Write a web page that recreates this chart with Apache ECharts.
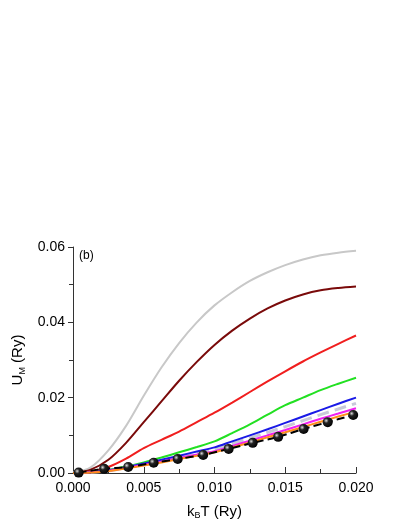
<!DOCTYPE html><html><head><meta charset="utf-8">
<script src="https://cdn.jsdelivr.net/npm/echarts@6/dist/echarts.min.js"></script>
<style>html,body{margin:0;background:#fff}#c{width:407px;height:527px}</style></head><body><div id="c"></div><script>
const xs=[0,0.00125,0.0025,0.00375,0.005,0.00625,0.0075,0.00875,0.01,0.01125,0.0125,0.01375,0.015,0.01625,0.0175,0.01875,0.02];
const gray=[0,0.0015,0.0060,0.0125,0.0205,0.028,0.0345,0.040,0.0445,0.048,0.051,0.0533,0.0552,0.0567,0.0578,0.0585,0.059];
const darkRed=[0,0.0009,0.0035,0.008,0.0135,0.019,0.0245,0.0295,0.034,0.0378,0.041,0.0437,0.0458,0.0474,0.0485,0.0491,0.0495];
const red=[0,0.0004,0.0016,0.0038,0.0066,0.0088,0.011,0.0135,0.016,0.0187,0.0215,0.0243,0.027,0.0296,0.032,0.0343,0.0365];
const green=[0,0.0002,0.0008,0.0017,0.0028,0.0041,0.0055,0.0069,0.0084,0.0106,0.0129,0.0155,0.0180,0.0200,0.0220,0.0237,0.0253];
const blue=[0,0.0002,0.0007,0.0015,0.0025,0.0035,0.0046,0.0057,0.0068,0.0084,0.0100,0.0116,0.0133,0.0150,0.0167,0.0184,0.0200];
const lightGray=[0,0.0002,0.0006,0.0014,0.0023,0.0032,0.0042,0.0053,0.0063,0.0078,0.0093,0.0108,0.0123,0.0139,0.0155,0.0170,0.0185];
const magenta=[0,0.0002,0.0006,0.0013,0.0022,0.0030,0.0040,0.0049,0.0058,0.0072,0.0086,0.0100,0.0114,0.0129,0.0144,0.0158,0.0172];
const orange=[0,0.0001,0.0005,0.0012,0.0020,0.0028,0.0037,0.0046,0.0055,0.0068,0.0081,0.0095,0.0108,0.0122,0.0136,0.0150,0.0163];
const ptX=[0.0004,0.0022,0.0039,0.0057,0.0074,0.0092,0.011,0.0127,0.0145,0.0163,0.018,0.0198];
const ptY=[0.0001,0.0011,0.0016,0.0027,0.0037,0.0048,0.0064,0.0080,0.0096,0.0117,0.0135,0.0154];
const pair=a=>xs.map((x,i)=>[x,a[i]]);
const line=(d,c,type,w)=>({type:'line',data:pair(d),smooth:0.3,symbol:'none',lineStyle:{color:c,width:w||2,type:type||'solid'},z:2});
const ch=echarts.init(document.getElementById('c'));
const F='Liberation Sans, Arial, sans-serif';
ch.setOption({animation:false,
grid:{left:73,right:51,top:247,bottom:54},
xAxis:{type:'value',min:0,max:0.02,interval:0.005,
 axisLine:{lineStyle:{color:'#333',width:1}},axisTick:{inside:true,length:6,lineStyle:{color:'#333'}},
 minorTick:{show:true,splitNumber:2,length:4,lineStyle:{color:'#333'}},splitLine:{show:false},
 axisLabel:{color:'#000',fontSize:14,fontFamily:F,formatter:v=>v.toFixed(3)},
 name:'{a|k}{s|B}{a|T (Ry)}',nameLocation:'middle',nameGap:30,nameTextStyle:{rich:{a:{fontSize:15,fontFamily:F,color:'#000'},s:{fontSize:9,fontFamily:F,color:'#000',verticalAlign:'bottom',padding:[8,0,0,0]}}}},
yAxis:{type:'value',min:0,max:0.06,interval:0.02,
 axisLine:{show:true,lineStyle:{color:'#333',width:1}},axisTick:{length:5,lineStyle:{color:'#333'}},
 minorTick:{show:true,splitNumber:2,length:4,lineStyle:{color:'#333'}},splitLine:{show:false},
 axisLabel:{color:'#000',fontSize:14,fontFamily:F,formatter:v=>v.toFixed(2)},
 name:'{a|U}{s|M}{a| (Ry)}',nameLocation:'middle',nameGap:44,nameTextStyle:{rich:{a:{fontSize:15,fontFamily:F,color:'#000'},s:{fontSize:9,fontFamily:F,color:'#000',padding:[8,0,0,0]}}}},
graphic:[{type:'text',left:79,top:250,style:{text:'(b)',font:'12px Liberation Sans, Arial',fill:'#000'}}],
series:[line(gray,'#c8c8c8'),line(darkRed,'#7a0a0a'),line(red,'#f01e1e'),line(green,'#22e022'),
 line(lightGray,'#c8c8d8','dashed',3),line(blue,'#1a1ae6'),line(magenta,'#f020f0'),line(orange,'#ff8c1a'),
 {type:'line',data:ptX.map((x,i)=>[x,ptY[i]]),smooth:0.3,symbol:'circle',symbolSize:10,
  lineStyle:{color:'#000',width:2,type:'dashed'},
  itemStyle:{color:new echarts.graphic.RadialGradient(0.35,0.35,0.7,[{offset:0,color:'#ddd'},{offset:0.35,color:'#222'},{offset:1,color:'#000'}]),borderWidth:0},z:3}]
});
</script></body></html>
